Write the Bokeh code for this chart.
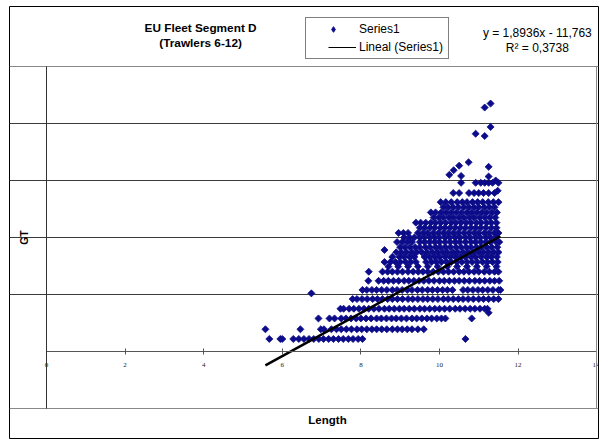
import math
from bokeh.plotting import figure
from bokeh.models import (Range1d, FixedTicker, Label, Legend, LegendItem,
                          LinearAxis, Grid)
from bokeh.embed import file_html
from bokeh.resources import INLINE

# ---------------- data ----------------
x_ticks = [0, 2, 4, 6, 8, 10, 12, 14]
y_grid = [5, 10, 15, 20]
y_box = [-5, 25]          # plot-area limits (border lines)
x_box = [0, 14]

# horizontal bands of vessels: GT value of the band and the lengths in it
row_gt = [1.1, 1.95, 2.9, 3.75, 4.6, 5.4, 6.2, 7.0, 7.85, 8.7, 9.6, 10.4,
          11.3, 12.2, 13.1, 13.9, 14.8,
          7.45, 8.3, 9.15, 10.0, 10.85, 11.75, 12.65]
row_lengths = [
    [5.67, 5.95, 6.0, 6.28, 6.42, 6.55, 6.68, 6.8, 6.93, 7.05, 7.18, 7.3, 7.43, 7.55, 7.68, 7.8, 7.93, 8.04, 10.66],
    [5.57, 6.46, 6.98, 7.06, 7.25, 7.38, 7.5, 7.63, 7.76, 7.9, 8.02, 8.15, 8.28, 8.4, 8.53, 8.66, 8.8, 8.93, 9.05, 9.18, 9.3, 9.45, 9.6],
    [6.92, 7.2, 7.33, 7.5, 7.62, 7.75, 7.88, 8.0, 8.13, 8.26, 8.4, 8.52, 8.65, 8.78, 8.9, 9.03, 9.16, 9.3, 9.42, 9.55, 9.68, 9.8, 9.93, 10.05, 10.15, 10.82],
    [7.48, 7.56, 7.7, 7.82, 7.95, 8.08, 8.2, 8.33, 8.46, 8.6, 8.72, 8.85, 8.98, 9.1, 9.23, 9.36, 9.5, 9.62, 9.75, 9.88, 10.0, 10.13, 10.26, 10.4, 10.52, 10.65, 10.78, 10.9, 11.03, 11.15, 11.22],
    [7.79, 7.9, 8.03, 8.16, 8.3, 8.42, 8.55, 8.68, 8.8, 8.93, 9.06, 9.2, 9.32, 9.45, 9.58, 9.7, 9.83, 9.96, 10.1, 10.22, 10.35, 10.48, 10.6, 10.73, 10.86, 11.0, 11.12, 11.25, 11.38, 11.5],
    [8.04, 8.15, 8.28, 8.4, 8.53, 8.66, 8.8, 8.92, 9.05, 9.18, 9.3, 9.44, 9.56, 9.7, 9.82, 9.95, 10.08, 10.2, 10.33, 10.6, 10.72, 10.85, 10.98, 11.1, 11.23, 11.36, 11.5, 11.55],
    [8.19, 8.45, 8.58, 8.7, 8.83, 8.96, 9.1, 9.22, 9.35, 9.48, 9.6, 9.73, 9.86, 10.0, 10.12, 10.25, 10.38, 10.5, 10.63, 10.76, 10.9, 11.02, 11.15, 11.28, 11.4, 11.52],
    [8.2, 8.55, 8.68, 8.8, 8.93, 9.06, 9.2, 9.33, 9.46, 9.58, 9.7, 9.84, 9.97, 10.1, 10.23, 10.36, 10.5, 10.62, 10.75, 10.88, 11.0, 11.14, 11.27, 11.4, 11.5],
    [8.6, 8.75, 8.88, 9.0, 9.14, 9.27, 9.4, 9.66, 9.8, 9.92, 10.05, 10.18, 10.3, 10.44, 10.57, 10.7, 10.83, 10.96, 11.1, 11.22, 11.35, 11.48],
    [8.9, 9.03, 9.16, 9.3, 9.42, 9.55, 9.68, 9.82, 9.95, 10.08, 10.2, 10.34, 10.46, 10.6, 10.72, 10.86, 11.0, 11.12, 11.25, 11.38, 11.5],
    [8.92, 9.05, 9.18, 9.3, 9.5, 9.62, 9.75, 9.88, 10.0, 10.14, 10.27, 10.4, 10.52, 10.66, 10.8, 10.92, 11.05, 11.18, 11.3, 11.44, 11.52],
    [8.96, 9.08, 9.2, 9.45, 9.58, 9.7, 9.84, 9.97, 10.1, 10.22, 10.35, 10.48, 10.62, 10.75, 10.88, 11.0, 11.14, 11.26, 11.4, 11.5],
    [9.4, 9.52, 9.65, 9.78, 9.9, 10.03, 10.16, 10.3, 10.42, 10.55, 10.68, 10.8, 10.94, 11.06, 11.2, 11.32, 11.45],
    [9.78, 9.9, 10.04, 10.17, 10.3, 10.43, 10.56, 10.7, 10.82, 10.95, 11.08, 11.2, 11.34, 11.46],
    [10.03, 10.16, 10.3, 10.45, 10.58, 10.7, 10.84, 10.97, 11.1, 11.24, 11.37, 11.5],
    [10.35, 10.5, 10.75, 10.88, 11.0, 11.12, 11.25, 11.4],
    [10.55, 10.92, 11.05, 11.15, 11.25, 11.35, 11.5],
    [8.7, 8.95, 9.2, 9.45, 9.7, 9.95, 10.2, 10.45, 10.7, 10.95, 11.2, 11.45],
    [8.8, 8.98, 9.1, 9.24, 9.36, 9.62, 9.75, 9.88, 10.0, 10.14, 10.27, 10.4, 10.53, 10.66, 10.8, 10.92, 11.06, 11.2, 11.32, 11.46],
    [9.0, 9.12, 9.25, 9.38, 9.5, 9.64, 9.76, 9.9, 10.02, 10.15, 10.28, 10.42, 10.55, 10.68, 10.8, 10.94, 11.06, 11.2, 11.33, 11.47],
    [9.1, 9.24, 9.36, 9.5, 9.62, 9.76, 9.88, 10.0, 10.14, 10.26, 10.4, 10.52, 10.66, 10.78, 10.92, 11.04, 11.18, 11.3, 11.44],
    [9.5, 9.62, 9.76, 9.88, 10.02, 10.14, 10.27, 10.4, 10.53, 10.66, 10.8, 10.92, 11.05, 11.18, 11.32, 11.45],
    [9.85, 9.98, 10.1, 10.24, 10.36, 10.5, 10.62, 10.76, 10.88, 11.02, 11.15, 11.28, 11.42],
    [10.1, 10.22, 10.35, 10.48, 10.62, 10.75, 10.88, 11.0, 11.14, 11.27, 11.4],
]
# isolated vessels outside the bands
extra_len = [6.74, 8.6, 11.25, 10.25, 10.36, 10.5, 10.74, 11.25, 11.25, 10.55,
             11.43, 11.48, 10.92, 11.15, 11.30, 11.15, 11.30]
extra_gt = [5.1, 8.9, 3.4, 15.5, 15.9, 16.3, 16.6, 16.2, 15.35, 15.4,
            15.0, 14.1, 19.1, 18.9, 19.7, 21.4, 21.75]

# linear trend reported on the chart
trend_slope = 1.8936
trend_intercept = -11.763

# ---------------- build ----------------
length = []
gt = []
for g, row in zip(row_gt, row_lengths):
    length.extend(row)
    gt.extend([g] * len(row))
length.extend(extra_len)
gt.extend(extra_gt)

trend_x = [min(length), max(length)]
trend_y = [trend_slope * v + trend_intercept for v in trend_x]

NAVY = "#0c0c8a"
FONT = "Liberation Sans"
NAN = float("nan")

W, H = 599, 439
B_LEFT, B_TOP, B_RIGHT, B_BOTTOM = 9, 6, 1, 1   # chart-area border
ZERO_X, ZERO_Y = 46, 351                         # canvas position of (0, 0)
PX_X = 39.3          # pixels per metre
PX_Y = 11.4          # pixels per GT
x_start = -(ZERO_X - B_LEFT) / PX_X
x_end = x_start + (W - B_LEFT - B_RIGHT) / PX_X
y_top = (ZERO_Y - B_TOP) / PX_Y
y_bot = y_top - (H - B_TOP - B_BOTTOM) / PX_Y

p = figure(width=W, height=H, output_backend="svg", toolbar_location=None,
           x_range=Range1d(x_start, x_end), y_range=Range1d(y_bot, y_top),
           min_border_left=B_LEFT, min_border_right=B_RIGHT,
           min_border_top=B_TOP, min_border_bottom=B_BOTTOM)
p.background_fill_color = "white"
p.border_fill_color = "white"
p.outline_line_color = "black"
p.outline_line_width = 1

sc = p.scatter(length, gt, marker="square", angle=math.pi / 4, size=5,
               fill_color=NAVY, line_color=NAVY, line_width=0.8)
ln = p.line(trend_x, trend_y, line_color="black", line_width=2.5)
# legend samples (no visible data)
leg_marker = p.scatter([NAN], [NAN], marker="diamond", size=8.5,
                       fill_color=NAVY, line_color=NAVY)
leg_line = p.line([NAN, NAN], [NAN, NAN], line_color="black", line_width=1,
                  line_dash="0 18 28")

# x axis sitting on GT = 0
xa = p.xaxis[0]
xa.fixed_location = 0
xa.ticker = FixedTicker(ticks=x_ticks)
xa.bounds = (x_box[0], x_box[1])
xa.minor_tick_line_color = None
xa.major_tick_in = 3
xa.major_tick_out = 3
xa.axis_line_color = "#555555"
xa.major_tick_line_color = "#555555"
xa.major_label_text_font = "Liberation Serif"
xa.major_label_text_font_size = "7px"
xa.major_label_text_color = "#222222"
xa.major_label_standoff = 8

# y axis on Length = 0 (left edge of the plot area)
ya = p.yaxis[0]
ya.fixed_location = 0
ya.ticker = FixedTicker(ticks=[])
ya.bounds = (y_box[0], y_box[1])
ya.minor_tick_line_color = None
ya.major_tick_line_color = None
ya.axis_line_color = "#333333"
ya.axis_label = "GT"
ya.axis_label_text_font = FONT
ya.axis_label_text_font_size = "10.5px"
ya.axis_label_text_font_style = "bold"
ya.axis_label_text_color = "black"
ya.axis_label_standoff = 17

# right edge of the plot area
ra = LinearAxis(fixed_location=x_box[1], ticker=FixedTicker(ticks=[]),
                bounds=(y_box[0], y_box[1]), axis_line_color="#888888",
                major_tick_line_color=None, minor_tick_line_color=None)
p.add_layout(ra, "right")

p.xgrid.visible = False
p.ygrid.ticker = FixedTicker(ticks=y_grid)
p.ygrid.grid_line_color = "#3a3a3a"
p.ygrid.grid_line_width = 1
p.ygrid.bounds = (x_box[0], x_box[1])
# top and bottom edges of the plot area
p.add_layout(Grid(dimension=1, ticker=FixedTicker(ticks=y_box),
                  bounds=(x_box[0], x_box[1]),
                  grid_line_color="#888888", grid_line_width=1))

# title, equation and axis title (data coordinates)
for txt, xx, yy, sz, st in [
    ("EU Fleet Segment D", 3.92, 28.4, "11.8px", "bold"),
    ("(Trawlers 6-12)", 3.92, 27.05, "11.8px", "bold"),
    ("y = 1,8936x - 11,763", 12.49, 27.95, "12px", "normal"),
    ("R\u00b2 = 0,3738", 12.49, 26.65, "12px", "normal"),
    ("Length", 7.15, -6.05, "11.5px", "bold"),
]:
    p.add_layout(Label(x=xx, y=yy, text=txt, text_align="center",
                       text_baseline="middle", text_font=FONT,
                       text_font_size=sz, text_font_style=st,
                       text_color="black"))

legend = Legend(items=[LegendItem(label="Series1", renderers=[leg_marker]),
                       LegendItem(label="Lineal (Series1)", renderers=[leg_line])],
                location=(305 - B_LEFT, H - B_BOTTOM - 59), padding=4,
                glyph_width=46, glyph_height=14, label_height=14,
                label_width=85, label_standoff=3, spacing=4, margin=0,
                border_line_color="black", border_line_width=1,
                background_fill_color="white", background_fill_alpha=1,
                label_text_font=FONT, label_text_font_size="12px",
                label_text_color="black")
p.add_layout(legend)

open("out.html", "w").write(file_html(p, INLINE))
